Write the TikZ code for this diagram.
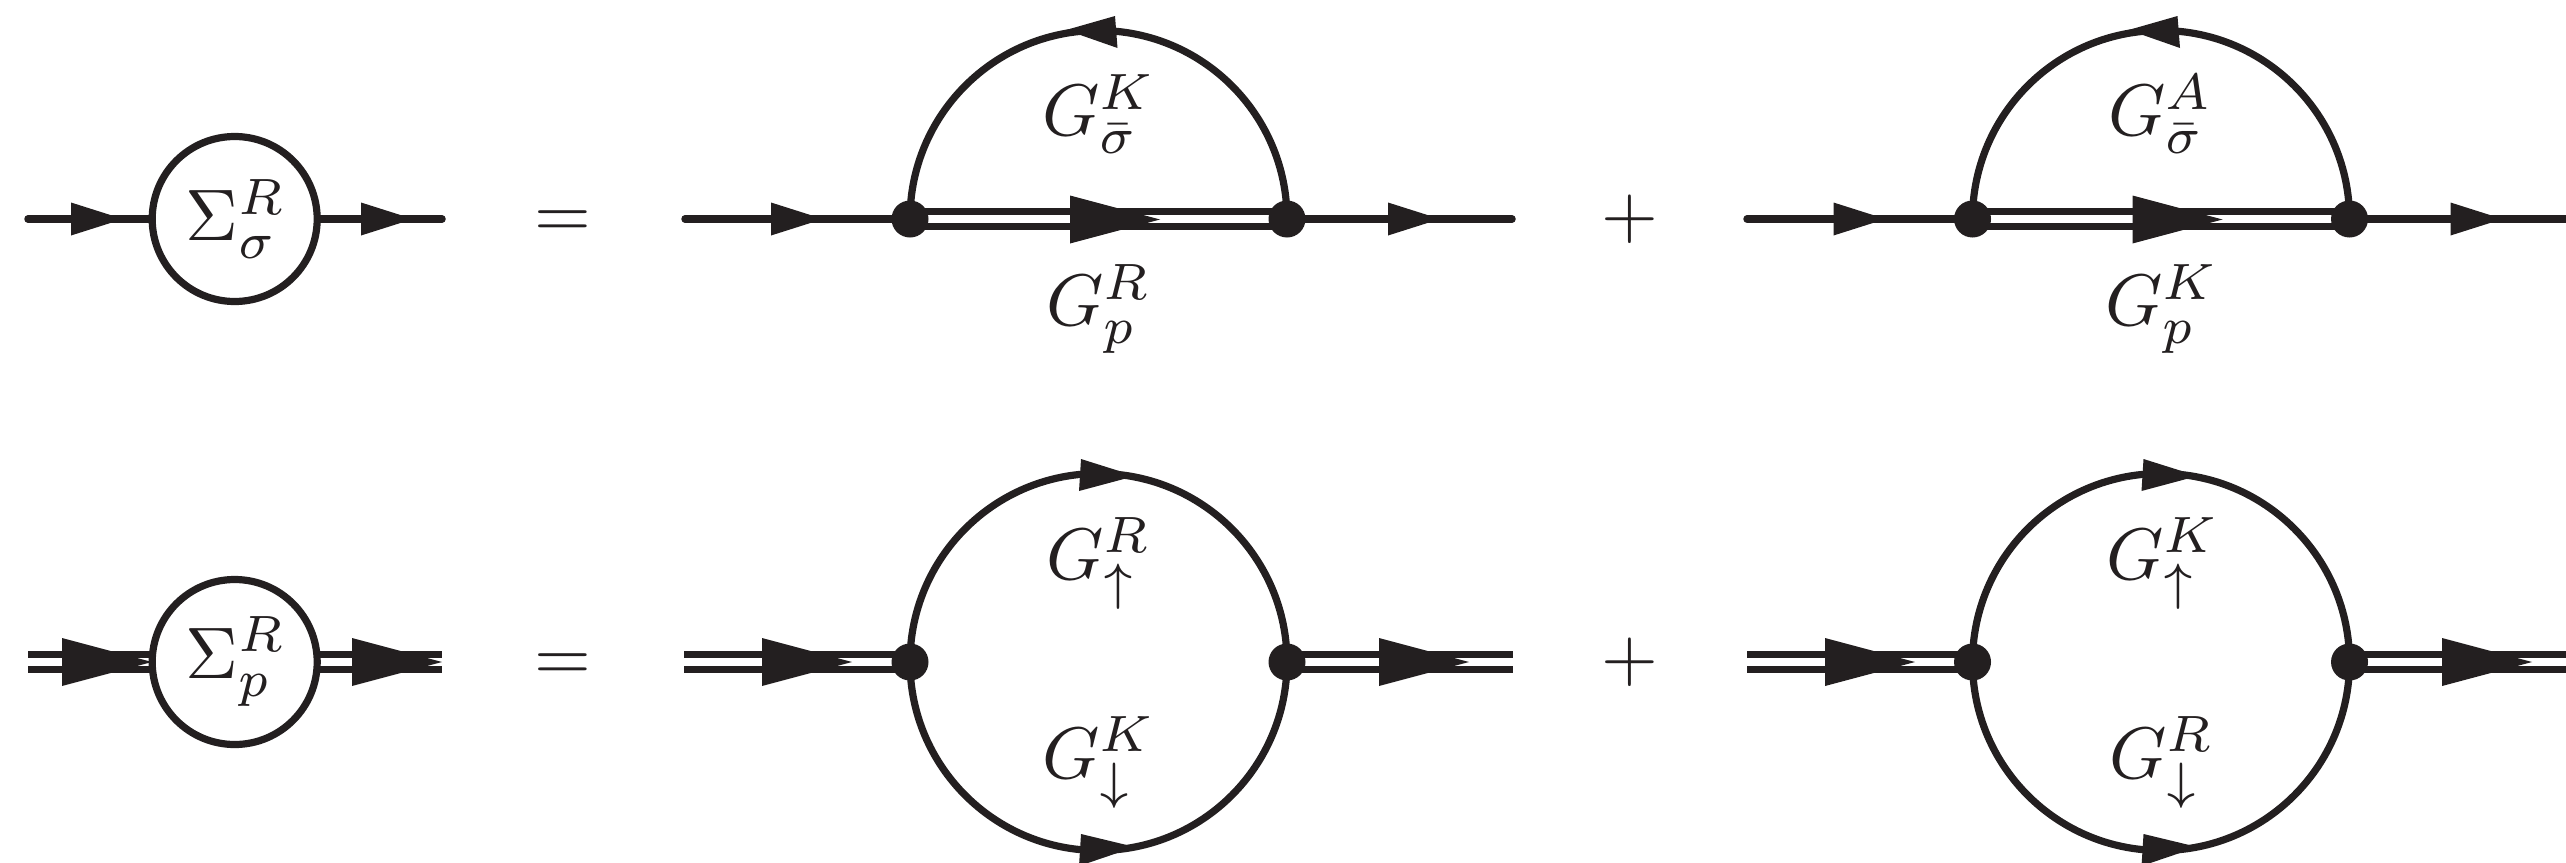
\documentclass[tikz,border=0pt]{standalone}
\definecolor{ink}{HTML}{231F20}
\newcommand\tipS[2]{\fill[ink] (#1,#2-16.5)--(#1+52,#2)--(#1,#2+16.5)--cycle;}
\newcommand\tipB[2]{\fill[ink] (#1,#2-24)--(#1+90,#2)--(#1,#2+24)--cycle;}
\newcommand\lab[4]{\node[mlabel] (#1) at (#2,#3) {$#4$};}
\tikzset{
  sline/.style={draw=ink,line width=7.5pt,line cap=round},
  dline/.style={draw=ink,line width=7pt,double=white,double distance=8pt,line cap=butt},
  aline/.style={draw=ink,line width=7.2pt},
  vertexdot/.style={circle,fill=ink,inner sep=0pt,minimum size=37pt},
  selfe/.style={circle,draw=ink,fill=white,line width=7.2pt,inner sep=0pt,minimum size=165pt},
  mlabel/.style={anchor=base west,inner sep=0pt,scale=7.3,text=ink},
  sign/.style={anchor=base,inner sep=0pt,scale=7.3,text=ink}
}
\begin{document}
\begin{tikzpicture}[x=1pt,y=-1pt]
\clip (0,0) rectangle (2566,862);
\useasboundingbox (0,0) rectangle (2566,862);
% coordinates
\coordinate (a1) at (28,219); \coordinate (a2) at (442,219);
\coordinate (b1) at (685,219);  \coordinate (b2) at (1512,219);
\coordinate (c1) at (1747,219); \coordinate (c2) at (2575,219);
\coordinate (d1) at (28,662);  \coordinate (d2) at (441.5,662);
\coordinate (e1) at (684,662); \coordinate (e2) at (1512.5,662);
\coordinate (f1) at (1747,662); \coordinate (f2) at (2575,662);
\coordinate (vb1) at (910,219);  \coordinate (vb2) at (1287,219);
\coordinate (vc1) at (1972.5,219); \coordinate (vc2) at (2349.5,219);
\coordinate (ve1) at (910,662);  \coordinate (ve2) at (1287,662);
\coordinate (vf1) at (1972.5,662); \coordinate (vf2) at (2349.5,662);
% top row lines
\draw[sline] (a1) -- (a2);
\draw[sline] (b1) -- (vb1);
\draw[sline] (vb2) -- (b2);
\draw[dline] (vb1) -- (vb2);
\draw[sline] (c1) -- (vc1);
\draw[sline] (vc2) -- (c2);
\draw[dline] (vc1) -- (vc2);
% bottom row lines
\draw[dline] (d1) -- (d2);
\draw[dline] (e1) -- (ve1);
\draw[dline] (ve2) -- (e2);
\draw[dline] (f1) -- (vf1);
\draw[dline] (vf2) -- (f2);
% arcs
\draw[aline] (vb1) arc[start angle=180,end angle=0,radius=188.5pt];
\draw[aline] (vc1) arc[start angle=180,end angle=0,radius=188.5pt];
\draw[aline] (ve1) arc[start angle=180,end angle=0,radius=188.5pt];
\draw[aline] (ve1) arc[start angle=180,end angle=360,radius=188.5pt];
\draw[aline] (vf1) arc[start angle=180,end angle=0,radius=188.5pt];
\draw[aline] (vf1) arc[start angle=180,end angle=360,radius=188.5pt];
% arrowheads, row 1
\tipS{71}{219}\tipS{361}{219}
\tipS{771}{219}\tipS{1388}{219}
\tipS{1833.5}{219}\tipS{2450.5}{219}
\tipB{1070}{219.5}\tipB{2132.5}{219.5}
\fill[ink] (1115,16)--(1066,30)--(1117.5,48)--cycle;
\fill[ink] (2177.5,16)--(2128.5,30)--(2180,48)--cycle;
% arrowheads, row 2
\tipB{62}{662}\tipB{352}{662}
\tipB{762}{662}\tipB{1379}{662}
\tipB{1825}{662}\tipB{2442}{662}
\fill[ink] (1081,459)--(1135,476)--(1079,491)--cycle;
\fill[ink] (1081,834)--(1135,847)--(1079,866)--cycle;
\fill[ink] (2143.5,459)--(2197.5,476)--(2141.5,491)--cycle;
\fill[ink] (2143.5,834)--(2197.5,847)--(2141.5,866)--cycle;
% vertices
\node[vertexdot] (vdb1) at (vb1) {};
\node[vertexdot] (vdb2) at (vb2) {};
\node[vertexdot] (vdc1) at (vc1) {};
\node[vertexdot] (vdc2) at (vc2) {};
\node[vertexdot] (vde1) at (ve1) {};
\node[vertexdot] (vde2) at (ve2) {};
\node[vertexdot] (vdf1) at (vf1) {};
\node[vertexdot] (vdf2) at (vf2) {};
% self energies
\node[selfe] (s1) at (234.7,219) {};
\node[selfe] (s2) at (234.7,662) {};
\lab{ls1}{184}{240.5}{\Sigma^R_\sigma}
\lab{ls2}{184}{678}{\Sigma^R_p}
% signs
\node[sign] (eq1) at (563,237.25) {$=$};
\node[sign] (eq2) at (563,680.25) {$=$};
\node[sign] (pl1) at (1630,237.25) {$+$};
\node[sign] (pl2) at (1630,680.25) {$+$};
% labels
\lab{l1}{1041}{135.5}{G^K_{\bar\sigma}}
\lab{l2}{1045}{325.5}{G^R_p}
\lab{l3}{2107}{135.5}{G^A_{\bar\sigma}}
\lab{l4}{2104}{325.5}{G^K_p}
\lab{l5}{1045}{579}{G^R_\uparrow}
\lab{l6}{1041}{778}{G^K_\downarrow}
\lab{l7}{2105}{579}{G^K_\uparrow}
\lab{l8}{2108}{778}{G^R_\downarrow}
\end{tikzpicture}
\end{document}
